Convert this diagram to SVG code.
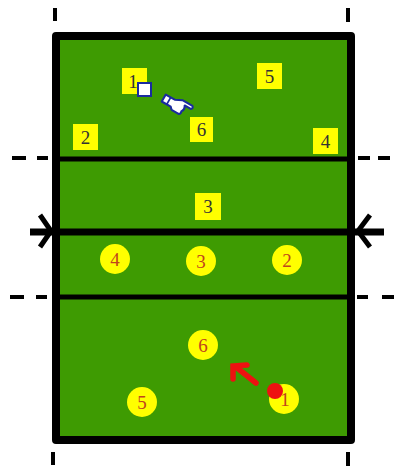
<svg xmlns="http://www.w3.org/2000/svg" width="395" height="469" viewBox="0 0 395 469">
<style>
.ln{stroke:#000;fill:none;stroke-linecap:butt}
.sq{fill:#ffff00}
.ci{fill:#ffff00}
.ts{font-family:"Liberation Serif","DejaVu Serif",serif;font-size:19px;fill:#333;text-anchor:middle}
.tc{font-family:"Liberation Serif","DejaVu Serif",serif;font-size:19px;fill:#c0451c;text-anchor:middle}
</style>
<rect x="0" y="0" width="395" height="469" fill="#fff"/>
<g id="court">
<rect x="56" y="36" width="295" height="404" fill="#3e9b02" stroke="#000" stroke-width="8" stroke-linejoin="round"/>
<line class="ln" x1="56" y1="159" x2="351" y2="159" stroke-width="5"/>
<line class="ln" x1="30" y1="232" x2="384" y2="232" stroke-width="7" stroke-linecap="round"/>
<line class="ln" x1="56" y1="297" x2="351" y2="297" stroke-width="5"/>
<path class="ln" d="M40,215 L51,231 L40,247 M370,215 L358,231 L370,247" stroke-width="5" stroke-linecap="round" stroke-linejoin="round"/>
<path class="ln" d="M12,158 H26 M37,158 H48 M358,158 H370 M378,158 H390 M10,297 H24 M36,297 H47 M357,297 H368 M382,297 H394" stroke-width="4"/>
<path class="ln" d="M55,8 V21 M348,8 V22 M53,452 V465 M348,452 V466" stroke-width="4"/>
</g>
<g id="p1top"><rect class="sq" x="122" y="68" width="25" height="26"/><text class="ts" x="133" y="88">1</text></g>
<g id="p5top"><rect class="sq" x="257" y="63" width="25" height="26"/><text class="ts" x="269.5" y="83">5</text></g>
<g id="p2top"><rect class="sq" x="73" y="124" width="25" height="26"/><text class="ts" x="85.5" y="144">2</text></g>
<g id="p6top"><rect class="sq" x="190" y="117" width="23" height="25"/><text class="ts" x="201.5" y="136">6</text></g>
<g id="p4top"><rect class="sq" x="313" y="128" width="25" height="26"/><text class="ts" x="325.5" y="148">4</text></g>
<g id="p3top"><rect class="sq" x="195" y="193" width="26" height="27"/><text class="ts" x="208" y="213">3</text></g>
<g id="ball-top"><rect x="138" y="83" width="13" height="13" fill="#fff" stroke="#1a2aa0" stroke-width="2"/></g>
<g id="hand" transform="translate(177,105) rotate(30) scale(1.15)">
<path d="M-13,-3 L-4,-3 L2,-6 L12,-6 Q14,-4.5 12,-3 L6,-3 Q8,0 6,3 Q7,5 5,6 L-2,6 L-4,4 L-13,4 Z" fill="#fff" stroke="#1a2aa0" stroke-width="1.8" stroke-linejoin="round"/>
<line x1="-8" y1="-3" x2="-8" y2="4" stroke="#1a2aa0" stroke-width="1.5"/>
</g>
<g id="p4b"><circle class="ci" cx="115" cy="259" r="15"/><text class="tc" x="115" y="266">4</text></g>
<g id="p3b"><circle class="ci" cx="201" cy="261" r="15"/><text class="tc" x="201" y="268">3</text></g>
<g id="p2b"><circle class="ci" cx="287" cy="260" r="15"/><text class="tc" x="287" y="267">2</text></g>
<g id="p6b"><circle class="ci" cx="203" cy="345" r="15"/><text class="tc" x="203" y="352">6</text></g>
<g id="p5b"><circle class="ci" cx="142" cy="402" r="15"/><text class="tc" x="142" y="409">5</text></g>
<g id="p1b"><circle class="ci" cx="284" cy="399" r="15"/><text class="tc" x="285" y="406">1</text></g>
<g id="ball-bottom"><circle cx="275" cy="391" r="8" fill="#ee1111"/></g>
<g id="connectors">
<path d="M256,383 L236,367 M233,379 L233,366 L247,365" fill="none" stroke="#ee1111" stroke-width="5.5" stroke-linecap="round" stroke-linejoin="miter"/>
</g>
</svg>
